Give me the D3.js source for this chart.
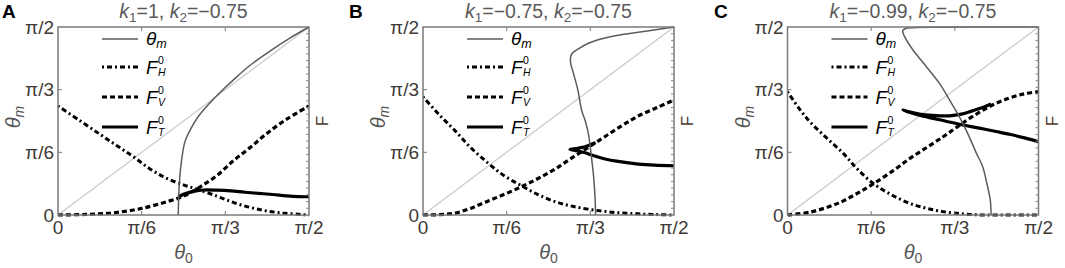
<!DOCTYPE html>
<html><head><meta charset="utf-8">
<script src="https://cdn.jsdelivr.net/npm/d3@7"></script>
<style>
body{margin:0;background:#fff}
svg{display:block;font-family:Arial,"Liberation Sans",sans-serif}
</style>
</head><body>
<svg id="chart" width="1065" height="268"></svg>
<script>
// ---- data (θ0 and θm in degrees; F in fraction of the unlabeled right axis) ----
const panelLetters = ["A", "B", "C"];
const k1Values = ["1", "\u22120.75", "\u22120.99"];
const k2Values = ["\u22120.75", "\u22120.75", "\u22120.75"];
const tickValues = [0, 30, 60, 90];
const tickLabels = ["0", "\u03c0/6", "\u03c0/3", "\u03c0/2"];

const thetaM_A = [[43.1,0],[43.2,5],[43.5,15],[44.2,25],[45.5,35],[47.5,41],[50.5,47.5],[54,53],[58,58.5],[63,64.8],[69,71.8],[76,78.5],[83,84.6],[90,90]];
const FH_A = [[0,0.58],[8,0.5],[15,0.43],[21,0.37],[27,0.31],[33,0.245],[39,0.195],[45,0.16],[50,0.137],[57,0.1],[63,0.066],[69,0.04],[75,0.021],[81,0.01],[87,0.003],[90,0]];
const FV_A = [[0,0],[10,0.003],[20,0.012],[30,0.035],[40,0.075],[45,0.1],[51,0.15],[57,0.21],[63,0.29],[69,0.36],[75,0.435],[82,0.51],[90,0.58]];
const FT_A = [[43.1,0.097],[46,0.115],[49,0.127],[52,0.133],[57,0.132],[62,0.128],[67,0.121],[72,0.115],[77,0.109],[82,0.102],[86,0.098],[90,0.097]];

const thetaM_B = [[61.9,0],[61.7,8],[61.2,18],[60.2,30],[59.3,39],[58.2,45],[56.9,50],[55.5,60],[53.9,68],[52.9,73],[53.0,76],[53.6,77.5],[55.7,79.5],[59.3,82.2],[62.5,83.8],[66.4,85.1],[72,86.5],[77.2,87.5],[84,88.8],[90,90]];
const FH_B = [[0,0.629],[6,0.53],[11.4,0.45],[17,0.36],[23.4,0.275],[29,0.21],[35.4,0.155],[41,0.11],[47.4,0.071],[54,0.045],[62,0.025],[70,0.012],[77,0.006],[84,0.002],[90,0]];
const FV_B = [[0,0],[6,0.002],[11.4,0.01],[17,0.035],[23.4,0.075],[30,0.115],[36.6,0.16],[42,0.2],[47.4,0.245],[53,0.3],[59.3,0.36],[65,0.415],[71.3,0.475],[77,0.525],[84,0.572],[90,0.612]];
const FT_B = [[61.9,0.385],[60,0.374],[58.1,0.363],[55.5,0.355],[52.7,0.349],[55,0.342],[58.1,0.331],[61,0.316],[65.3,0.298],[70,0.285],[77.2,0.271],[83,0.265],[90,0.262]];

const thetaM_C = [[73,0],[72.7,7.2],[71.5,15],[70,23.1],[67.6,30],[64.6,39.1],[61.6,47.1],[58.1,55.1],[54.5,63],[49.8,71],[45,79],[42,85.4],[41.3,88.2],[42.3,89.3],[45,89.7],[55,89.85],[70,89.95],[90,90]];
const FH_C = [[0,0.656],[4,0.57],[8.1,0.495],[14,0.41],[20,0.328],[25,0.245],[30.7,0.168],[37,0.11],[43.8,0.062],[50,0.035],[55.7,0.018],[62,0.007],[67.6,0.001],[75,0],[90,0]];
const FV_C = [[0,0],[8,0.015],[15,0.045],[20,0.075],[25,0.115],[30.7,0.165],[37.8,0.235],[43.8,0.3],[50,0.36],[55.7,0.415],[60.5,0.465],[67,0.53],[73.5,0.585],[79.5,0.622],[85,0.645],[90,0.656]];
const FT_C = [[73,0.59],[70.5,0.575],[68.8,0.566],[65.5,0.55],[62.8,0.538],[59.5,0.53],[56.9,0.527],[52,0.53],[47.3,0.537],[44,0.547],[41.4,0.559],[44,0.545],[47,0.532],[50.9,0.518],[56.5,0.5],[62.8,0.479],[68.8,0.462],[74.8,0.444],[80,0.428],[85,0.41],[90,0.39]];

const panels = [
  {thetaM: thetaM_A, FH: FH_A, FV: FV_A, FT: FT_A},
  {thetaM: thetaM_B, FH: FH_B, FV: FV_B, FT: FT_B},
  {thetaM: thetaM_C, FH: FH_C, FV: FV_C, FT: FT_C}
];

// ---- layout ----
const svg = d3.select("#chart");
const panelLeft = [58, 423, 787.5];
const letterX = [2, 349, 714];
const W = 251, plotTop = 27, plotBottom = 215;
const frameColor = "#7a7a7a", textColor = "#3e3a37";

const x = d3.scaleLinear().domain([0, 90]).range([0, W]);
const yT = d3.scaleLinear().domain([0, 90]).range([plotBottom, plotTop]);
const yF = d3.scaleLinear().domain([0, 1]).range([plotBottom, plotTop]);

const lineT = d3.line().x(d => x(d[0])).y(d => yT(d[1])).curve(d3.curveCatmullRom.alpha(0.5));
const lineF = d3.line().x(d => x(d[0])).y(d => yF(d[1])).curve(d3.curveCatmullRom.alpha(0.5));

const styles = {
  H: {w: 3, dash: "2,3,5,3", color: "#000"},
  V: {w: 3.2, dash: "5,3", color: "#000"},
  T: {w: 3.2, dash: null, color: "#000"}
};

panels.forEach((p, i) => {
  const g = svg.append("g").attr("transform", `translate(${panelLeft[i]},0)`);

  svg.append("text").attr("x", letterX[i]).attr("y", 18)
    .attr("font-size", 19).attr("font-weight", "bold").attr("fill", "#000").text(panelLetters[i]);

  const t = g.append("text").attr("x", W / 2).attr("y", 18).attr("text-anchor", "middle")
    .attr("font-size", 19.5).attr("fill", "#5a5a5a");
  t.append("tspan").attr("font-style", "italic").text("k");
  t.append("tspan").attr("font-size", 13.5).attr("dy", 4).text("1");
  t.append("tspan").attr("dy", -4).text("=" + k1Values[i] + ", ");
  t.append("tspan").attr("font-style", "italic").text("k");
  t.append("tspan").attr("font-size", 13.5).attr("dy", 4).text("2");
  t.append("tspan").attr("dy", -4).text("=" + k2Values[i]);

  const clipId = "clip" + i;
  g.append("clipPath").attr("id", clipId).append("rect")
    .attr("x", 0).attr("y", plotTop - 2).attr("width", W + 1).attr("height", plotBottom - plotTop + 4);
  const plot = g.append("g").attr("clip-path", `url(#${clipId})`);

  plot.append("path").attr("d", lineT([[0, 0], [90, 90]]))
    .attr("fill", "none").attr("stroke", "#c9c9c9").attr("stroke-width", 1.2);

  [["H", p.FH], ["V", p.FV], ["T", p.FT]].forEach(([k, data]) => {
    const s = styles[k];
    plot.append("path").attr("d", lineF(data)).attr("fill", "none")
      .attr("stroke", s.color).attr("stroke-width", s.w)
      .attr("stroke-dasharray", s.dash);
  });

  plot.append("path").attr("d", lineT(p.thetaM)).attr("fill", "none")
    .attr("stroke", "#5c5c5c").attr("stroke-width", 1.5);

  g.append("rect").attr("x", 0).attr("y", plotTop).attr("width", W).attr("height", plotBottom - plotTop)
    .attr("fill", "none").attr("stroke", frameColor).attr("stroke-width", 1.5);

  tickValues.slice(1, 3).forEach(v => {
    g.append("line").attr("x1", x(v)).attr("x2", x(v)).attr("y1", plotBottom).attr("y2", plotBottom - 4)
      .attr("stroke", frameColor).attr("stroke-width", 1);
    g.append("line").attr("x1", x(v)).attr("x2", x(v)).attr("y1", plotTop).attr("y2", plotTop + 4)
      .attr("stroke", frameColor).attr("stroke-width", 1);
    g.append("line").attr("x1", 0).attr("x2", 4).attr("y1", yT(v)).attr("y2", yT(v))
      .attr("stroke", frameColor).attr("stroke-width", 1);
  });
  d3.range(1, 28).forEach(j => {
    const v = j / 28;
    g.append("line").attr("x1", W).attr("x2", W - 3).attr("y1", yF(v)).attr("y2", yF(v))
      .attr("stroke", "#8a8a8a").attr("stroke-width", 1);
  });

  tickValues.forEach((v, j) => {
    g.append("text").attr("x", x(v)).attr("y", 233.5).attr("text-anchor", "middle")
      .attr("font-size", 19).attr("fill", textColor).text(tickLabels[j]);
    g.append("text").attr("x", -4).attr("y", yT(v) + 6.5).attr("text-anchor", "end")
      .attr("font-size", 19).attr("fill", textColor).text(tickLabels[j]);
  });

  const yl = g.append("text").attr("transform", `translate(-38,117) rotate(-90)`)
    .attr("text-anchor", "middle").attr("font-size", 20).attr("fill", "#555");
  yl.append("tspan").attr("font-style", "italic").text("\u03b8");
  yl.append("tspan").attr("font-style", "italic").attr("font-size", 14).attr("dy", 4).text("m");

  g.append("text").attr("transform", `translate(${W + 19},121) rotate(-90)`)
    .attr("text-anchor", "middle").attr("font-size", 17).attr("fill", "#4a3a30").text("F");

  const xl = g.append("text").attr("x", W / 2).attr("y", 259).attr("text-anchor", "middle")
    .attr("font-size", 20).attr("fill", "#555");
  xl.append("tspan").attr("font-style", "italic").text("\u03b8");
  xl.append("tspan").attr("font-size", 14).attr("dy", 4).text("0");

  const lx0 = 44, lx1 = 80, ly = [39, 67, 97, 127];
  g.append("line").attr("x1", lx0).attr("x2", lx1).attr("y1", ly[0]).attr("y2", ly[0])
    .attr("stroke", "#5c5c5c").attr("stroke-width", 1.5);
  const l0 = g.append("text").attr("x", lx1 + 8).attr("y", ly[0] + 6).attr("font-size", 19).attr("fill", "#000");
  l0.append("tspan").attr("font-style", "italic").text("\u03b8");
  l0.append("tspan").attr("font-style", "italic").attr("font-size", 12.5).attr("dy", 3).text("m");

  ["H", "V", "T"].forEach((k, j) => {
    const s = styles[k];
    const yy = ly[j + 1];
    g.append("line").attr("x1", lx0).attr("x2", lx1).attr("y1", yy).attr("y2", yy)
      .attr("stroke", s.color).attr("stroke-width", s.w).attr("stroke-dasharray", s.dash);
    g.append("text").attr("x", lx1 + 8).attr("y", yy + 7).attr("font-size", 19)
      .attr("font-style", "italic").attr("fill", "#000").text("F");
    g.append("text").attr("x", lx1 + 20).attr("y", yy - 3).attr("font-size", 10.5)
      .attr("fill", "#000").text("0");
    g.append("text").attr("x", lx1 + 20).attr("y", yy + 9).attr("font-size", 10.5)
      .attr("font-style", "italic").attr("fill", "#000").text(k);
  });
});
</script>
</body></html>
